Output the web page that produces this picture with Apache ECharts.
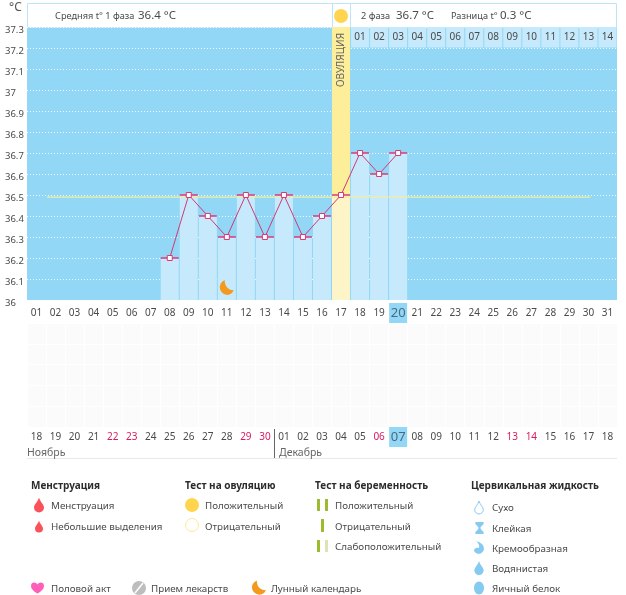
<!DOCTYPE html>
<html><head><meta charset="utf-8">
<style>html,body{margin:0;padding:0;background:#fff}#c{width:626px;height:595px}</style>
<script src="https://cdn.jsdelivr.net/npm/echarts@6/dist/echarts.min.js"></script>
</head><body><div id="c"></div>
<script>
const cycleDays=['01','02','03','04','05','06','07','08','09','10','11','12','13','14','15','16','17','18','19','20','21','22','23','24','25','26','27','28','29','30','31'];
const calendarDays=['18','19','20','21','22','23','24','25','26','27','28','29','30','01','02','03','04','05','06','07','08','09','10','11','12','13','14','15','16','17','18'];
const redIndexes=[4,5,11,12,18,25,26];
const temps=[null,null,null,null,null,null,null,36.2,36.5,36.4,36.3,36.5,36.3,36.5,36.3,36.4,36.5,36.7,36.6,36.7,null,null,null,null,null,null,null,null,null,null,null];
const phaseTwoDays=['01','02','03','04','05','06','07','08','09','10','11','12','13','14'];
const phaseTwoStart=17;
const ovulationIndex=16;
const todayIndex=19;
const calendarTodayIndex=19;
const coverLine=[[1.05,36.49],[29.6,36.49]];
const moonDay=[10,36.06];
const yMin=36,yMax=37.3;

const FONT='"Noto Sans",sans-serif';
const TXT='#4a4a4a';
const dropD='M5 0C6 4 10 7 10 10A5 5 0 0 1 0 10C0 7 4 4 5 0Z';
const moonD='M6 0A8.5 8.5 0 1 0 16.5 11.5A10 10 0 0 1 6 0Z';
const t=(x,y,text,opt={})=>({type:'text',x,y,silent:true,style:Object.assign({text,fill:TXT,font:'9.8px '+FONT,verticalAlign:'middle'},opt)});
const title=(x,y,text)=>t(x,y,text,{fill:'#2c2c2c',font:'bold 10px '+FONT});
const rect=(x,y,w,h,fill)=>({type:'rect',silent:true,shape:{x,y,width:w,height:h},style:{fill}});
const circ=(cx,cy,r,style)=>({type:'circle',silent:true,shape:{cx,cy,r},style});
const line=(x1,y1,x2,y2,stroke,w=1)=>({type:'line',silent:true,shape:{x1,y1,x2,y2},style:{stroke,lineWidth:w}});
const GREEN='#9dbb2e',PALE='#d9e5b4',BLUE='#85caf0',RED='#f9525a';

const icons=[
 {d:dropD,x:33.5,y:497.5,w:11,h:15,style:{fill:RED}},
 {d:dropD,x:34.5,y:520.5,w:9,h:12,style:{fill:RED}},
 {d:dropD,x:474,y:501,w:10,h:13,style:{fill:'#fff',stroke:BLUE,lineWidth:1}},
 {d:'M0 0H9V1.5C9 3 5.5 4.5 5.5 6.5C5.5 8.5 9 10 9 11.5V13H0V11.5C0 10 3.5 8.5 3.5 6.5C3.5 4.5 0 3 0 1.5Z',x:475,y:522,w:9,h:12,style:{fill:BLUE}},
 {d:'M2 0C8 1 11 5 10 9A5.5 5.5 0 0 1 0 10C0 8 2 6 5 7C6 5 5 2 2 0Z',x:474,y:541,w:10,h:13,style:{fill:BLUE}},
 {d:dropD,x:474,y:561,w:10,h:14,style:{fill:BLUE}},
 {d:'M6.5 3C5 0 0 0 0 4.5C0 8 4 10.5 6.5 12C9 10.5 13 8 13 4.5C13 0 8 0 6.5 3Z',x:31,y:582,w:13,h:12,style:{fill:'#ff5fb8'}},
 {d:moonD,x:252,y:580,w:14,h:15,style:{fill:'#f39a1e'}}
];

const elements=[
 t(9,8,'°C',{font:'12px '+FONT,fill:'#555'}),
 {type:'rect',silent:true,shape:{x:27.5,y:3.5,width:589,height:24},style:{fill:'#fff',stroke:'#bde5f7',lineWidth:1}},
 line(332.5,3,332.5,27,'#bde5f7'),line(350.5,3,350.5,27,'#bde5f7'),
 circ(341,16,7,{fill:'#ffd54f'}),
 t(55,16,'Средняя t° 1 фаза',{font:'9.2px '+FONT}),
 t(138,16,'36.4 °C',{font:'11.5px '+FONT}),
 t(361,16,'2 фаза',{font:'9.2px '+FONT}),
 t(396,16,'36.7 °C',{font:'11.5px '+FONT}),
 t(451,16,'Разница t°',{font:'9.2px '+FONT}),
 t(500,16,'0.3 °C',{font:'11.5px '+FONT}),
 {type:'text',silent:true,x:341,y:60,rotation:Math.PI/2,z:10,style:{text:'ОВУЛЯЦИЯ',fill:'#666',font:'10px '+FONT,align:'center',verticalAlign:'middle'}},
 line(274.5,429,274.5,458,'#666'),line(27,458.5,617,458.5,'#e8e8e8'),
 t(27,453,'Ноябрь',{font:'10.5px '+FONT,fill:'#666'}),
 t(279,453,'Декабрь',{font:'10.5px '+FONT,fill:'#666'}),
 title(31,486,'Менструация'),title(185,486,'Тест на овуляцию'),title(315,486,'Тест на беременность'),title(471,486,'Цервикальная жидкость'),
 t(51,506,'Менструация'),t(51,527,'Небольшие выделения'),
 circ(192,505,7,{fill:'#ffd54f'}),t(205,506,'Положительный'),
 circ(192,525,6.5,{fill:'#fff',stroke:'#fbe89a',lineWidth:1}),t(205,527,'Отрицательный'),
 rect(317,499,3,12,GREEN),rect(325,499,3,12,GREEN),t(335,506,'Положительный'),
 rect(321,519,3,13,GREEN),t(335,527,'Отрицательный'),
 rect(317,540,3,12,GREEN),rect(325,540,3,12,PALE),t(335,547,'Слабоположительный'),
 t(492,508,'Сухо'),t(492,529,'Клейкая'),t(492,549,'Кремообразная'),t(492,569,'Водянистая'),
 {type:'ellipse',silent:true,shape:{cx:479,cy:588,rx:5,ry:6.5},style:{fill:BLUE}},t(492,589,'Яичный белок'),
 t(51,589,'Половой акт'),
 circ(139,588,7,{fill:'#bdbdbd'}),line(135,593,143,583,'#fff',1.5),t(151,589,'Прием лекарств'),
 t(271,589,'Лунный календарь')
];

const chart=echarts.init(document.getElementById('c'),null,{renderer:'canvas'});
chart.setOption({
 animation:false,
 textStyle:{fontFamily:FONT},
 grid:[
  {left:27,top:27,width:590,height:273,show:true,backgroundColor:'#92d7f5',borderWidth:0},
  {left:27,top:323,width:590,height:104,show:true,backgroundColor:'#fbfbfc',borderWidth:0}
 ],
 xAxis:[
  {type:'category',gridIndex:0,data:cycleDays,axisLine:{show:false},axisTick:{show:false},
   axisLabel:{margin:3,interval:0,
    formatter:(v,i)=>i===todayIndex?'{hl|'+v+'}':'{d|'+v+'}',
    rich:{d:{fontFamily:FONT,fontSize:10,color:TXT,height:20,lineHeight:20,align:'center'},
          hl:{fontFamily:FONT,fontSize:13,color:'#4a6a80',backgroundColor:'#92d7f5',width:18,height:20,lineHeight:20,align:'center'}}}},
  {type:'category',gridIndex:1,data:calendarDays,axisLine:{show:false},axisTick:{show:false},
   axisLabel:{margin:0,interval:0,
    formatter:(v,i)=>i===calendarTodayIndex?'{hl|'+v+'}':(redIndexes.includes(i)?'{r|'+v+'}':'{d|'+v+'}'),
    rich:{d:{fontFamily:FONT,fontSize:10,color:TXT,height:20,lineHeight:20,align:'center'},
          r:{fontFamily:FONT,fontSize:10,color:'#d81b60',height:20,lineHeight:20,align:'center'},
          hl:{fontFamily:FONT,fontSize:13,color:'#4a6a80',backgroundColor:'#92d7f5',width:18,height:20,lineHeight:20,align:'center'}}},
   splitLine:{show:true,interval:0,lineStyle:{color:'#fff',width:1}}},
  {type:'value',gridIndex:0,min:0,max:31,show:false}
 ],
 yAxis:[
  {type:'value',gridIndex:0,min:yMin,max:yMax,interval:0.1,axisLine:{show:false},axisTick:{show:false},
   splitLine:{show:true,lineStyle:{color:'rgba(255,255,255,0.9)',width:1,type:[1,2]}},
   axisLabel:{align:'left',margin:22,fontFamily:FONT,fontSize:9.5,color:TXT,padding:[0,0,0,0],verticalAlign:'top',lineHeight:6}},
  {type:'value',gridIndex:1,min:0,max:5,interval:1,axisLine:{show:false},axisTick:{show:false},axisLabel:{show:false},
   splitLine:{show:true,lineStyle:{color:'#fff',width:1}}}
 ],
 series:[
  {type:'bar',xAxisIndex:0,yAxisIndex:0,barWidth:18,barGap:'-100%',z:2,silent:true,
   data:cycleDays.map((d,i)=>i===ovulationIndex?{value:yMax,itemStyle:{color:'#fdee9a'}}:null)},
  {type:'bar',xAxisIndex:0,yAxisIndex:0,barWidth:18,barGap:'-100%',z:3,silent:true,
   data:temps.map((v,i)=>v==null?null:{value:v,itemStyle:{color:i===ovulationIndex?'#fdf5c8':'#c6eafc'}})},
  {type:'line',xAxisIndex:2,yAxisIndex:0,data:coverLine,showSymbol:false,z:4,silent:true,lineStyle:{color:'#f2ee9e',width:1.2}},
  {type:'custom',xAxisIndex:0,yAxisIndex:0,z:4,silent:true,data:phaseTwoDays.map((d,i)=>[i+phaseTwoStart,37.3,d]),
   encode:{x:0,y:1},
   renderItem:(params,api)=>{
     const c=api.coord([api.value(0),api.value(1)]);
     const s=api.size([1,0.1]);
     return {type:'group',children:[
       {type:'rect',shape:{x:c[0]-s[0]/2+0.5,y:c[1],width:s[0]-1,height:s[1]-0.5},style:{fill:'#c6eafc'}},
       {type:'text',style:{x:c[0],y:c[1]+s[1]/2,text:phaseTwoDays[params.dataIndex],fill:TXT,font:'10px '+FONT,align:'center',verticalAlign:'middle'}}
     ]};
   }},
  {type:'scatter',xAxisIndex:0,yAxisIndex:0,data:temps,symbol:'rect',symbolSize:[18,1.5],z:5,silent:true,itemStyle:{color:'#d83a78',opacity:1}},
  {type:'line',xAxisIndex:0,yAxisIndex:0,data:temps,connectNulls:false,symbol:'rect',symbolSize:5,showAllSymbol:true,z:6,silent:true,
   lineStyle:{color:'#cf3a78',width:1},itemStyle:{color:'#fff',borderColor:'#d83a78',borderWidth:1}},
  {type:'scatter',xAxisIndex:0,yAxisIndex:0,data:[moonDay],symbol:'path://'+moonD,symbolSize:[14,15],z:7,silent:true,itemStyle:{color:'#f39a1e',opacity:1}},
  {type:'custom',coordinateSystem:'none',silent:true,z:8,data:icons.map((_,i)=>[i]),
   renderItem:(params)=>{const k=icons[params.dataIndex];
     return {type:'path',shape:{pathData:k.d,x:k.x,y:k.y,width:k.w,height:k.h},style:k.style};}}
 ],
 graphic:{elements}
});
</script></body></html>
